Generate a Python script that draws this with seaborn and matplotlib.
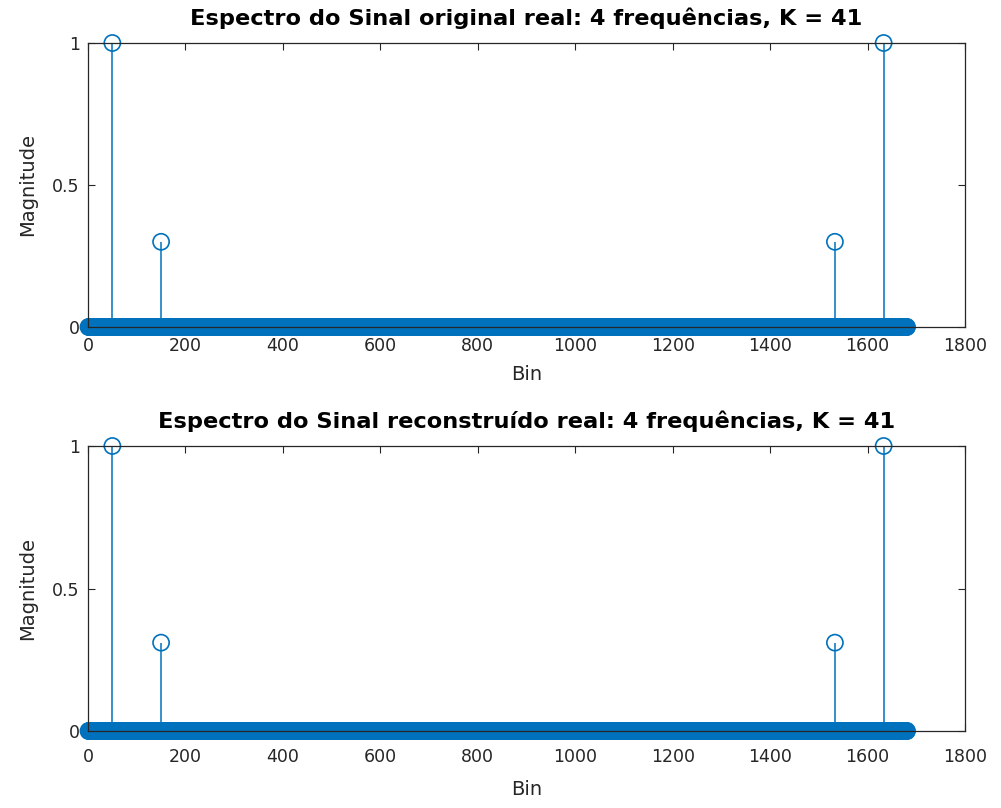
import numpy as np
import pandas as pd
import matplotlib
matplotlib.use("Agg")
import matplotlib.pyplot as plt
import seaborn as sns

# Spectrum description: number of bins, peak bins and their magnitudes
n_bins = 1681
orig_peak_bins = [50, 150, 1533, 1633]
orig_peak_mags = [1.0, 0.30, 0.30, 1.0]
rec_peak_bins = [50, 150, 1533, 1633]
rec_peak_mags = [1.0, 0.31, 0.31, 1.0]

titles = [
    "Espectro do Sinal original real: 4 frequências, K = 41",
    "Espectro do Sinal reconstruído real: 4 frequências, K = 41",
]
x_ticks = [0, 200, 400, 600, 800, 1000, 1200, 1400, 1600, 1800]
y_ticks = [0, 0.5, 1]
y_tick_labels = ["0", "0.5", "1"]

STEM = "#0072BD"
INK = "#262626"

sns.set_style("ticks")
plt.rcParams["font.family"] = ["DejaVu Sans"]
plt.rcParams.update({
    "xtick.direction": "in",
    "ytick.direction": "in",
    "xtick.top": True,
    "ytick.right": True,
    "axes.edgecolor": INK,
    "axes.linewidth": 0.9,
    "xtick.color": INK,
    "ytick.color": INK,
    "xtick.labelcolor": INK,
    "ytick.labelcolor": INK,
})


def spectrum(peak_bins, peak_mags):
    mags = np.zeros(n_bins)
    mags[np.asarray(peak_bins) - 1] = peak_mags
    return pd.DataFrame({"Bin": np.arange(1, n_bins + 1), "Magnitude": mags})


W, H = 1001, 808
fig = plt.figure(figsize=(W / 100, H / 100), dpi=100)
# panel box in pixels, x tick label pad, x label pad
panels = [((88, 43, 965, 327), 7.5, 7), ((88, 446, 965, 731), 12.5, 10)]
frames = [spectrum(orig_peak_bins, orig_peak_mags), spectrum(rec_peak_bins, rec_peak_mags)]

for ((l, t, r, b), xpad, xlpad), df, title in zip(panels, frames, titles):
    ax = fig.add_axes([l / W, 1 - b / H, (r - l) / W, (b - t) / H])
    ax.vlines(df["Bin"], 0, df["Magnitude"], color=STEM, lw=1.1, zorder=2)
    sns.scatterplot(data=df, x="Bin", y="Magnitude", ax=ax, color=STEM,
                    facecolor="none", edgecolor=STEM, linewidth=1.2, s=135,
                    marker="o", clip_on=False, zorder=1, legend=False)
    ax.set_xlim(0, 1800)
    ax.set_ylim(0, 1)
    ax.set_xticks(x_ticks)
    ax.set_yticks(y_ticks)
    ax.set_yticklabels(y_tick_labels)
    ax.tick_params(length=5, width=0.8, labelsize=12.5)
    ax.tick_params(axis="x", pad=xpad)
    ax.tick_params(axis="y", pad=6)
    ax.set_xlabel("Bin", fontsize=14, color=INK, labelpad=xlpad)
    ax.set_ylabel("Magnitude", fontsize=14, color=INK, labelpad=11)
    ax.set_title(title, fontsize=16.2, fontweight="bold", color="black", pad=13)
    for s in ax.spines.values():
        s.set_visible(True)

fig.savefig("out.png", dpi=100, facecolor="white")
